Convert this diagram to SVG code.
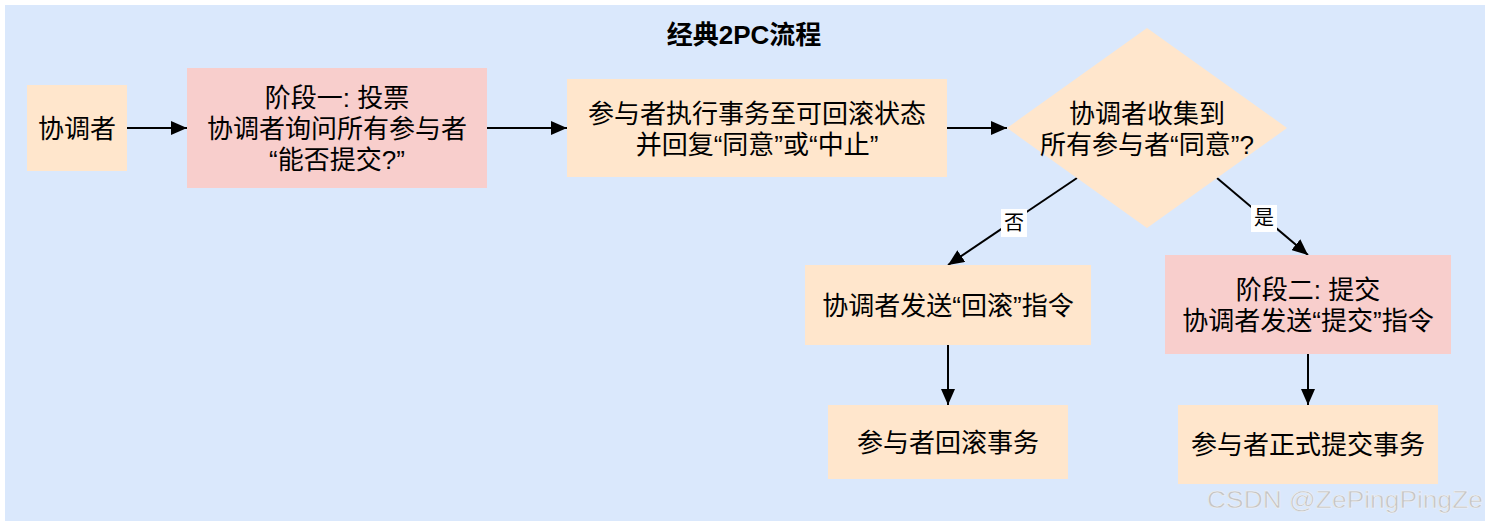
<svg xmlns="http://www.w3.org/2000/svg" width="1488" height="526" viewBox="0 0 1488 526">
<style>
.t{font-family:"Liberation Sans","Noto Sans CJK SC",sans-serif;font-size:26px;fill:#000;text-anchor:middle}
.lbl{font-family:"Liberation Sans","Noto Sans CJK SC",sans-serif;font-size:20px;fill:#000;text-anchor:middle}
.peach{fill:#ffe6cc}
.pink{fill:#f8cecc}
.c{stroke:#000;stroke-width:2;fill:none;marker-end:url(#ah)}
</style>
<defs>
<marker id="ah" markerUnits="userSpaceOnUse" markerWidth="16" markerHeight="14" refX="16" refY="7" orient="auto">
<path d="M0,0 L16,7 L0,14 z" fill="#000"/>
</marker>
</defs>
<rect x="0" y="0" width="1488" height="526" fill="#ffffff"/>
<rect x="5" y="5" width="1480" height="516" fill="#dae8fc"/>
<text x="744" y="44" font-family="'Liberation Sans','Noto Sans CJK SC',sans-serif" font-size="26" font-weight="bold" text-anchor="middle" fill="#000">经典2PC流程</text>

<g id="connectors">
<line class="c" x1="127" y1="128" x2="187" y2="128"/>
<line class="c" x1="487" y1="128" x2="567" y2="128"/>
<line class="c" x1="947" y1="128" x2="1007" y2="128"/>
<line class="c" x1="1077" y1="178" x2="948" y2="265"/>
<line class="c" x1="1217" y1="178" x2="1308" y2="255"/>
<line class="c" x1="948" y1="345" x2="948" y2="405"/>
<line class="c" x1="1308" y1="354" x2="1308" y2="405"/>
<rect x="1001" y="209" width="26" height="28" fill="#fff"/>
<text class="lbl" x="1014" y="230">否</text>
<rect x="1251" y="205" width="26" height="27" fill="#fff"/>
<text class="lbl" x="1264" y="225">是</text>
</g>

<g id="coordinator">
<rect class="peach" x="27" y="85" width="100" height="86"/>
<text class="t" x="77" y="138">协调者</text>
</g>
<g id="phase1">
<rect class="pink" x="187" y="68" width="300" height="120"/>
<text class="t" x="337" y="107">阶段一: 投票</text>
<text class="t" x="337" y="138">协调者询问所有参与者</text>
<text class="t" x="337" y="169">“能否提交?”</text>
</g>
<g id="execute">
<rect class="peach" x="567" y="79" width="380" height="98"/>
<text class="t" x="757" y="123">参与者执行事务至可回滚状态</text>
<text class="t" x="757" y="154">并回复“同意”或“中止”</text>
</g>
<g id="decision">
<polygon class="peach" points="1147,28 1287,128 1147,228 1007,128"/>
<text class="t" x="1147" y="123">协调者收集到</text>
<text class="t" x="1147" y="154">所有参与者“同意”?</text>
</g>
<g id="rollback">
<rect class="peach" x="805" y="265" width="286" height="80"/>
<text class="t" x="948" y="315">协调者发送“回滚”指令</text>
</g>
<g id="phase2">
<rect class="pink" x="1165" y="255" width="286" height="99"/>
<text class="t" x="1308" y="299">阶段二: 提交</text>
<text class="t" x="1308" y="330">协调者发送“提交”指令</text>
</g>
<g id="participantRollback">
<rect class="peach" x="828" y="405" width="240" height="74"/>
<text class="t" x="948" y="452">参与者回滚事务</text>
</g>
<g id="participantCommit">
<rect class="peach" x="1178" y="405" width="260" height="79"/>
<text class="t" x="1308" y="454">参与者正式提交事务</text>
</g>
<text x="1207" y="508" font-family="'Liberation Sans',sans-serif" font-size="24" textLength="276" lengthAdjust="spacingAndGlyphs" fill="#c4c4c4" stroke="#f4f4f4" stroke-width="0.5">CSDN @ZePingPingZe</text>
</svg>
